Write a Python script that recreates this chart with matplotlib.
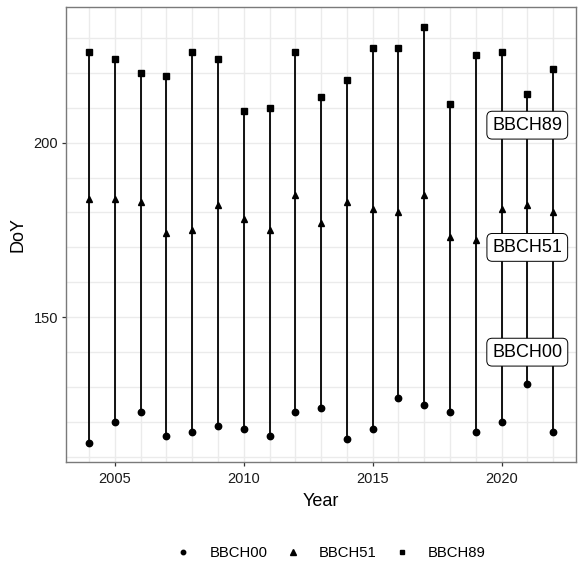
import matplotlib as mpl
mpl.use('Agg')
import matplotlib.pyplot as plt
from matplotlib.lines import Line2D
import numpy as np

plt.rcParams['font.family'] = ['Liberation Sans', 'DejaVu Sans']

years = list(range(2004, 2023))
bbch00 = [114, 120, 123, 116, 117, 119, 118, 116, 123, 124,
          115, 118, 127, 125, 123, 117, 120, 131, 117]
bbch51 = [184, 184, 183, 174, 175, 182, 178, 175, 185, 177,
          183, 181, 180, 185, 173, 172, 181, 182, 180]
bbch89 = [226, 224, 220, 219, 226, 224, 209, 210, 226, 213,
          218, 227, 227, 233, 211, 225, 226, 214, 221]

label_names = ['BBCH89', 'BBCH51', 'BBCH00']
label_x = [2021, 2021, 2021]
label_y = [205, 170, 140]

fig = plt.figure(figsize=(5.78, 5.65), dpi=100)
ax = fig.add_axes([0.114, 0.182, 0.883, 0.806])

for spine in ax.spines.values():
    spine.set_color('#7a7a7a')
    spine.set_linewidth(1.0)

ax.set_xticks(years, minor=True)
ax.set_yticks(np.arange(110, 240, 10), minor=True)
ax.set_xticks([2005, 2010, 2015, 2020])
ax.set_yticks([150, 200])
ax.grid(True, which='both', color='#EBEBEB', linewidth=1.0)
ax.set_axisbelow(True)
ax.tick_params(which='minor', length=0)
ax.tick_params(which='major', length=3, width=0.9, color='#333333', pad=2.5,
               labelsize=10.5, labelcolor='#1a1a1a')
ax.tick_params(axis='x', which='major', pad=4)

ax.vlines(years, bbch00, bbch89, color='black', linewidth=1.3, zorder=2)
ax.plot(years, bbch00, 'o', color='black', markersize=4.6, zorder=3)
ax.plot(years, bbch51, '^', color='black', markersize=5.0, zorder=3)
ax.plot(years, bbch89, 's', color='black', markersize=4.5, zorder=3)

for name, x, y in zip(label_names, label_x, label_y):
    ax.text(x, y, name, ha='center', va='center', fontsize=13, zorder=4,
            bbox=dict(boxstyle='round,pad=0.3,rounding_size=0.3',
                      facecolor='white', edgecolor='black', linewidth=0.7))

ax.set_xlim(2003.1, 2022.9)
ax.set_ylim(108.5, 238.9)
ax.set_xlabel('Year', fontsize=13, labelpad=5)
ax.set_ylabel('DoY', fontsize=13, labelpad=5)

handles = [Line2D([], [], linestyle='none', marker=m, color='black', markersize=s)
           for m, s in [('o', 3.2), ('^', 3.8), ('s', 3.2)]]
fig.legend(handles, ['BBCH00', 'BBCH51', 'BBCH89'], loc='center',
           bbox_to_anchor=(0.572, 0.021), ncol=3, frameon=False,
           fontsize=10.7, handletextpad=1.25, columnspacing=1.2,
           handlelength=1.0)

plt.savefig('out.png')
plt.close()
